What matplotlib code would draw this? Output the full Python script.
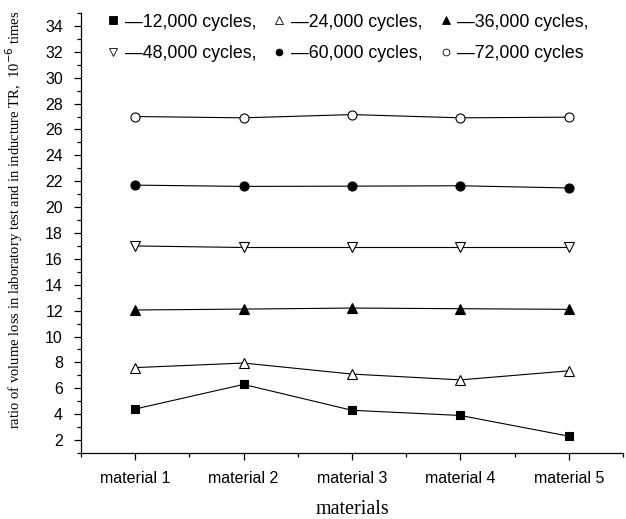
import numpy as np
import matplotlib
matplotlib.use("Agg")
from matplotlib import pyplot as plt
from matplotlib.lines import Line2D
from matplotlib.ticker import MultipleLocator, FixedLocator

materials = ["material 1", "material 2", "material 3", "material 4", "material 5"]
cycles_12k = [4.4, 6.3, 4.3, 3.9, 2.3]
cycles_24k = [7.6, 7.95, 7.1, 6.65, 7.35]
cycles_36k = [12.05, 12.12, 12.2, 12.15, 12.1]
cycles_48k = [17.0, 16.88, 16.88, 16.88, 16.88]
cycles_60k = [21.7, 21.6, 21.62, 21.65, 21.48]
cycles_72k = [27.0, 26.9, 27.15, 26.9, 26.95]

series = [
    (cycles_12k, "s", "k", 5.5, "\u201412,000 cycles,"),
    (cycles_24k, "^", "white", 7.5, "\u201424,000 cycles,"),
    (cycles_36k, "^", "k", 7.5, "\u201436,000 cycles,"),
    (cycles_48k, "v", "white", 7.5, "\u201448,000 cycles,"),
    (cycles_60k, "o", "k", 6.5, "\u201460,000 cycles,"),
    (cycles_72k, "o", "white", 6.5, "\u201472,000 cycles"),
]

fig = plt.figure(figsize=(6.26, 5.19), dpi=100)
ax = fig.add_axes([81 / 626, 1 - 453 / 519, 542 / 626, 440 / 519])

x = np.arange(1, len(materials) + 1)
handles = []
labels = []
for vals, mk, fc, ms, lab in series:
    ax.plot(x, vals, color="k", lw=0.8, marker=mk, markersize=ms,
            markerfacecolor=fc, markeredgecolor="k", markeredgewidth=0.8)
    leg_ms = ms * 1.1 if mk == "s" else ms * 0.75
    handles.append(Line2D([], [], ls="none", marker=mk, markersize=leg_ms,
                          markerfacecolor=fc, markeredgecolor="k", markeredgewidth=0.6))
    labels.append(lab)

# legend fills columns first, reorder so it reads row by row
order = [0, 3, 1, 4, 2, 5]
handles = [handles[i] for i in order]
labels = [labels[i] for i in order]

ax.set_xlim(0.5, 5.5)
ax.set_ylim(1, 35)
ax.set_xticks(x)
ax.set_xticklabels(materials)
ax.xaxis.set_minor_locator(FixedLocator(np.arange(0.5, 6, 1)))
ax.set_yticks(np.arange(2, 35, 2))
ax.yaxis.set_minor_locator(MultipleLocator(1))

for s in ["top", "right"]:
    ax.spines[s].set_visible(False)
for s in ["left", "bottom"]:
    ax.spines[s].set_linewidth(0.9)

ax.tick_params(which="major", length=5, width=0.9, direction="out", labelsize=11.5, pad=8)
ax.tick_params(which="minor", length=3, width=0.9, direction="out")
for t in ax.get_xticklabels() + ax.get_yticklabels():
    t.set_family("Liberation Sans")

ax.set_xlabel("materials", family="Liberation Serif", fontsize=14.5, labelpad=10)
ax.set_ylabel("ratio of volume loss in laboratory test and in inducture TR,  10$^{-6}$ times",
              family="Liberation Serif", fontsize=10.5)
ax.yaxis.set_label_coords(-0.104, 0.53)

leg = ax.legend(handles, labels, ncol=3, loc="upper left", bbox_to_anchor=(0.02, 1.035),
                frameon=False, handlelength=0.6, handletextpad=0.35, columnspacing=1.0,
                labelspacing=0.8, prop={"family": "Liberation Sans", "size": 12.8})

fig.savefig("out.png", dpi=100)
